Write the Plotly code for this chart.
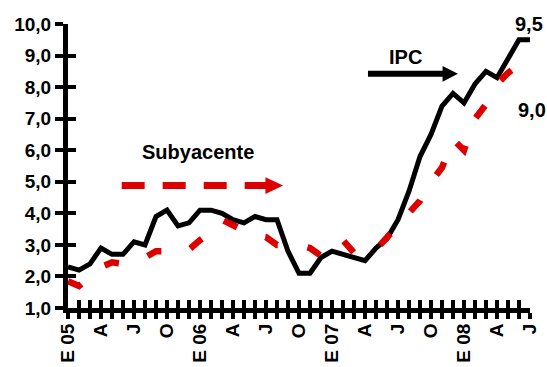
import plotly.graph_objects as go

# Monthly axis: January 2005 to July 2008 (E = enero, A = abril, J = julio, O = octubre)
meses = ["E 05", "", "", "A", "", "", "J", "", "", "O", "", "",
         "E 06", "", "", "A", "", "", "J", "", "", "O", "", "",
         "E 07", "", "", "A", "", "", "J", "", "", "O", "", "",
         "E 08", "", "", "A", "", "", "J"]

# Annual inflation, %
ipc = [2.3, 2.2, 2.4, 2.9, 2.7, 2.7, 3.1, 3.0, 3.9, 4.1, 3.6, 3.7,
       4.1, 4.1, 4.0, 3.8, 3.7, 3.9, 3.8, 3.8, 2.8, 2.1, 2.1, 2.6,
       2.8, 2.7, 2.6, 2.5, 2.9, 3.2, 3.8, 4.7, 5.8, 6.5, 7.4, 7.8,
       7.5, 8.1, 8.5, 8.3, 8.9, 9.5, 9.5]

subyacente = [1.85, 1.7, 2.0, 2.3, 2.45, 2.4, 2.5, 2.6, 2.8, 2.8, 2.9, 2.85,
              3.15, 3.4, 3.8, 3.6, 3.45, 3.3, 3.25, 3.0, 3.0, 3.0, 2.9, 2.65,
              2.8, 3.15, 2.75, 2.7, 2.85, 3.25, 3.6, 4.0, 4.4, 5.0, 5.45, 6.35,
              6.0, 7.0, 7.45, 8.1, 8.45, 8.7, 9.0]

y_ticks = [1, 2, 3, 4, 5, 6, 7, 8, 9, 10]

x = list(range(len(meses)))
RED = "#DD0000"
FONT = dict(family="Liberation Sans, Arial, sans-serif", size=19, color="black", weight="bold")
FONT_NOTE = dict(FONT, size=20)

fig = go.Figure()
fig.add_trace(go.Scatter(x=x, y=ipc, mode="lines", line=dict(color="black", width=5),
                         showlegend=False, hoverinfo="skip"))
fig.add_trace(go.Scatter(x=x, y=subyacente, mode="lines",
                         line=dict(color=RED, width=6.5, dash="15px,30px"),
                         showlegend=False, hoverinfo="skip"))
# empty trace that carries the overlay axes used for the inner half of the ticks
fig.add_trace(go.Scatter(x=[None], y=[None], xaxis="x2", yaxis="y2",
                         showlegend=False, hoverinfo="skip"))

xmax = len(meses) - 1
axis_common = dict(showgrid=False, zeroline=False, tickcolor="black", tickwidth=4,
                   automargin=False)

fig.update_layout(
    width=547, height=367,
    margin=dict(l=68, r=17, t=24, b=59, pad=0),
    plot_bgcolor="white", paper_bgcolor="white",
    separators=",.",
    xaxis=dict(range=[0, xmax], tickvals=x, ticktext=meses, tickangle=-90,
               ticks="outside", ticklen=6, tickfont=FONT, ticklabelstandoff=-3,
               showline=True, linecolor="black", linewidth=5, **axis_common),
    xaxis2=dict(range=[0, xmax], overlaying="x", anchor="y2", side="bottom",
                tickvals=x, ticks="inside", ticklen=8, showticklabels=False,
                showline=False, **axis_common),
    yaxis=dict(range=[1, 10], tickvals=y_ticks, tickformat=".1f",
               ticks="outside", ticklen=8, tickfont=FONT,
               showline=True, linecolor="black", linewidth=5, **axis_common),
    yaxis2=dict(range=[1, 10], overlaying="y", anchor="x2", side="left",
                tickvals=y_ticks, ticks="inside", ticklen=8, showticklabels=False,
                showline=False, **axis_common),
)

# series labels and end values
fig.add_annotation(x=11.8, y=5.94, text="Subyacente", showarrow=False, font=FONT_NOTE,
                   xanchor="center", yanchor="middle")
fig.add_annotation(x=30.7, y=8.96, text="IPC", showarrow=False, font=FONT_NOTE,
                   xanchor="center", yanchor="middle")
fig.add_annotation(xref="paper", yref="paper", x=0.998, y=1.0, text="9,5",
                   showarrow=False, font=FONT_NOTE, xanchor="center", yanchor="middle")
fig.add_annotation(xref="paper", yref="paper", x=1.004, y=0.698, text="9,0",
                   showarrow=False, font=FONT_NOTE, xanchor="center", yanchor="middle")

# dashed red pointer next to "Subyacente"
fig.add_shape(type="line", x0=4.88, x1=18.0, y0=4.88, y1=4.88,
              line=dict(color=RED, width=7, dash="23px,18px"))
fig.add_shape(type="path", path="M 17.95,5.147 L 19.55,4.88 L 17.95,4.613 Z",
              fillcolor=RED, line=dict(width=0))

# solid black pointer next to "IPC"
fig.add_shape(type="line", x0=27.27, x1=34.1, y0=8.42, y1=8.42,
              line=dict(color="black", width=6))
fig.add_shape(type="path", path="M 34.05,8.672 L 35.45,8.42 L 34.05,8.168 Z",
              fillcolor="black", line=dict(width=0))

fig.write_html("out.html")
